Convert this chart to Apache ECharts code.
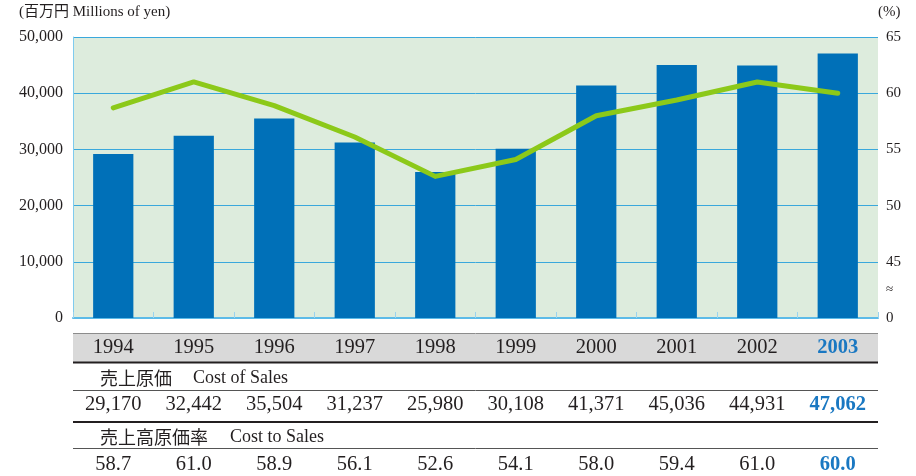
<!DOCTYPE html>
<html><head><meta charset="utf-8">
<script src="https://cdn.jsdelivr.net/npm/echarts@6/dist/echarts.min.js"></script>
<style>html,body{margin:0;padding:0;background:#fff}#c{width:916px;height:476px}</style>
</head><body><div id="c"></div>
<script>
const years = ['1994','1995','1996','1997','1998','1999','2000','2001','2002','2003'];
const costOfSales = [29170, 32442, 35504, 31237, 25980, 30108, 41371, 45036, 44931, 47062];
const costRate = [58.7, 61.0, 58.9, 56.1, 52.6, 54.1, 58.0, 59.4, 61.0, 60.0];
const leftTicks = [0, 10000, 20000, 30000, 40000, 50000];
const rightTicks = [40, 45, 50, 55, 60, 65];

const SERIF = '"Liberation Serif","Times New Roman","Noto Sans CJK JP",serif';
const CJK = '"Noto Sans CJK JP",sans-serif';
const TXT = '#231f20';
const HL = '#1a78c2';
const last = years.length - 1;
const fmt = v => v.toLocaleString('en-US');

function rowLabel(fn) {
  return function (val, idx) {
    const s = fn(val, idx);
    return idx === last ? '{hl|' + s + '}' : '{n|' + s + '}';
  };
}
const rowRich = {
  n: { fontFamily: SERIF, fontSize: 20.5, color: TXT },
  hl: { fontFamily: SERIF, fontSize: 20.5, color: HL, fontWeight: 'bold' }
};

const chart = echarts.init(document.getElementById('c'), null, { renderer: 'canvas' });
chart.setOption({
  animation: false,
  backgroundColor: '#ffffff',
  grid: { left: 73, right: 38, top: 37, bottom: 158, show: true, backgroundColor: '#ddecdd', borderWidth: 0 },
  graphic: [
    { type: 'rect', shape: { x: 73, y: 334, width: 805, height: 28 }, style: { fill: '#d9d9d9' }, z: -1 },
    { type: 'line', shape: { x1: 73, y1: 333.5, x2: 878, y2: 333.5 }, style: { stroke: '#8c8c8c', lineWidth: 1 } },
    { type: 'line', shape: { x1: 73, y1: 362.5, x2: 878, y2: 362.5 }, style: { stroke: TXT, lineWidth: 2 } },
    { type: 'line', shape: { x1: 73, y1: 390.5, x2: 878, y2: 390.5 }, style: { stroke: '#555', lineWidth: 1 } },
    { type: 'line', shape: { x1: 73, y1: 422, x2: 878, y2: 422 }, style: { stroke: TXT, lineWidth: 2 } },
    { type: 'line', shape: { x1: 73, y1: 448.5, x2: 878, y2: 448.5 }, style: { stroke: '#555', lineWidth: 1 } },
    { type: 'text', left: 19, top: 5, style: { text: '(百万円 Millions of yen)', font: '15px ' + SERIF, fill: TXT } },
    { type: 'text', left: 878, top: 5, style: { text: '(%)', font: '15px ' + SERIF, fill: TXT } },
    { type: 'text', x: 100, y: 378, style: { text: '売上原価', font: '18px ' + CJK, fill: TXT, verticalAlign: 'middle' } },
    { type: 'text', x: 193, y: 378, style: { text: 'Cost of Sales', font: '18px ' + SERIF, fill: TXT, verticalAlign: 'middle' } },
    { type: 'text', x: 100, y: 437, style: { text: '売上高原価率', font: '18px ' + CJK, fill: TXT, verticalAlign: 'middle' } },
    { type: 'text', x: 230, y: 437, style: { text: 'Cost to Sales', font: '18px ' + SERIF, fill: TXT, verticalAlign: 'middle' } }
  ],
  xAxis: [
    {
      type: 'category', data: years, position: 'bottom', gridIndex: 0,
      axisLine: { lineStyle: { color: '#5cbbe8', width: 2 } },
      axisTick: { show: true, inside: true, length: 6, lineStyle: { color: '#9ad3ee', width: 1 } },
      axisLabel: { margin: 30, verticalAlign: 'middle', formatter: rowLabel(v => v), rich: rowRich }
    },
    {
      type: 'category', data: costOfSales, position: 'bottom', gridIndex: 0,
      axisLine: { show: false }, axisTick: { show: false }, splitLine: { show: false },
      axisLabel: { margin: 87, verticalAlign: 'middle', formatter: rowLabel(v => fmt(Number(v))), rich: rowRich }
    },
    {
      type: 'category', data: costRate, position: 'bottom', gridIndex: 0,
      axisLine: { show: false }, axisTick: { show: false }, splitLine: { show: false },
      axisLabel: { margin: 147, verticalAlign: 'middle', formatter: rowLabel(v => Number(v).toFixed(1)), rich: rowRich }
    }
  ],
  yAxis: [
    {
      type: 'value', min: leftTicks[0], max: leftTicks[leftTicks.length - 1], interval: 10000,
      axisLine: { show: true, lineStyle: { color: '#7fcbee', width: 1 } },
      axisTick: { show: false },
      splitLine: { show: true, lineStyle: { color: '#3aa8dc', width: 1 } },
      axisLabel: { margin: 10, color: TXT, fontFamily: SERIF, fontSize: 16, formatter: v => fmt(v) }
    },
    {
      type: 'value', min: rightTicks[0], max: rightTicks[rightTicks.length - 1], interval: 2.5,
      axisLine: { show: false }, axisTick: { show: false }, splitLine: { show: false },
      axisLabel: {
        margin: 8, color: TXT, fontFamily: SERIF, fontSize: 15,
        formatter: v => {
          if (v === rightTicks[0]) return '0';
          if (Math.abs(v - 42.5) < 1e-6) return '{s|≈}';
          return (v % 5 === 0) ? String(v) : '';
        },
        rich: { s: { fontSize: 13, fontFamily: SERIF, color: TXT } }
      }
    }
  ],
  series: [
    {
      type: 'bar', name: 'Cost of Sales', data: costOfSales, xAxisIndex: 0, yAxisIndex: 0,
      barWidth: '50%', itemStyle: { color: '#0070b8' }, z: 2
    },
    {
      type: 'line', name: 'Cost to Sales', data: costRate, xAxisIndex: 0, yAxisIndex: 1,
      showSymbol: false, symbol: 'none', lineStyle: { color: '#8cc919', width: 5, cap: 'round', join: 'round' }, z: 3
    }
  ]
});
</script></body></html>
